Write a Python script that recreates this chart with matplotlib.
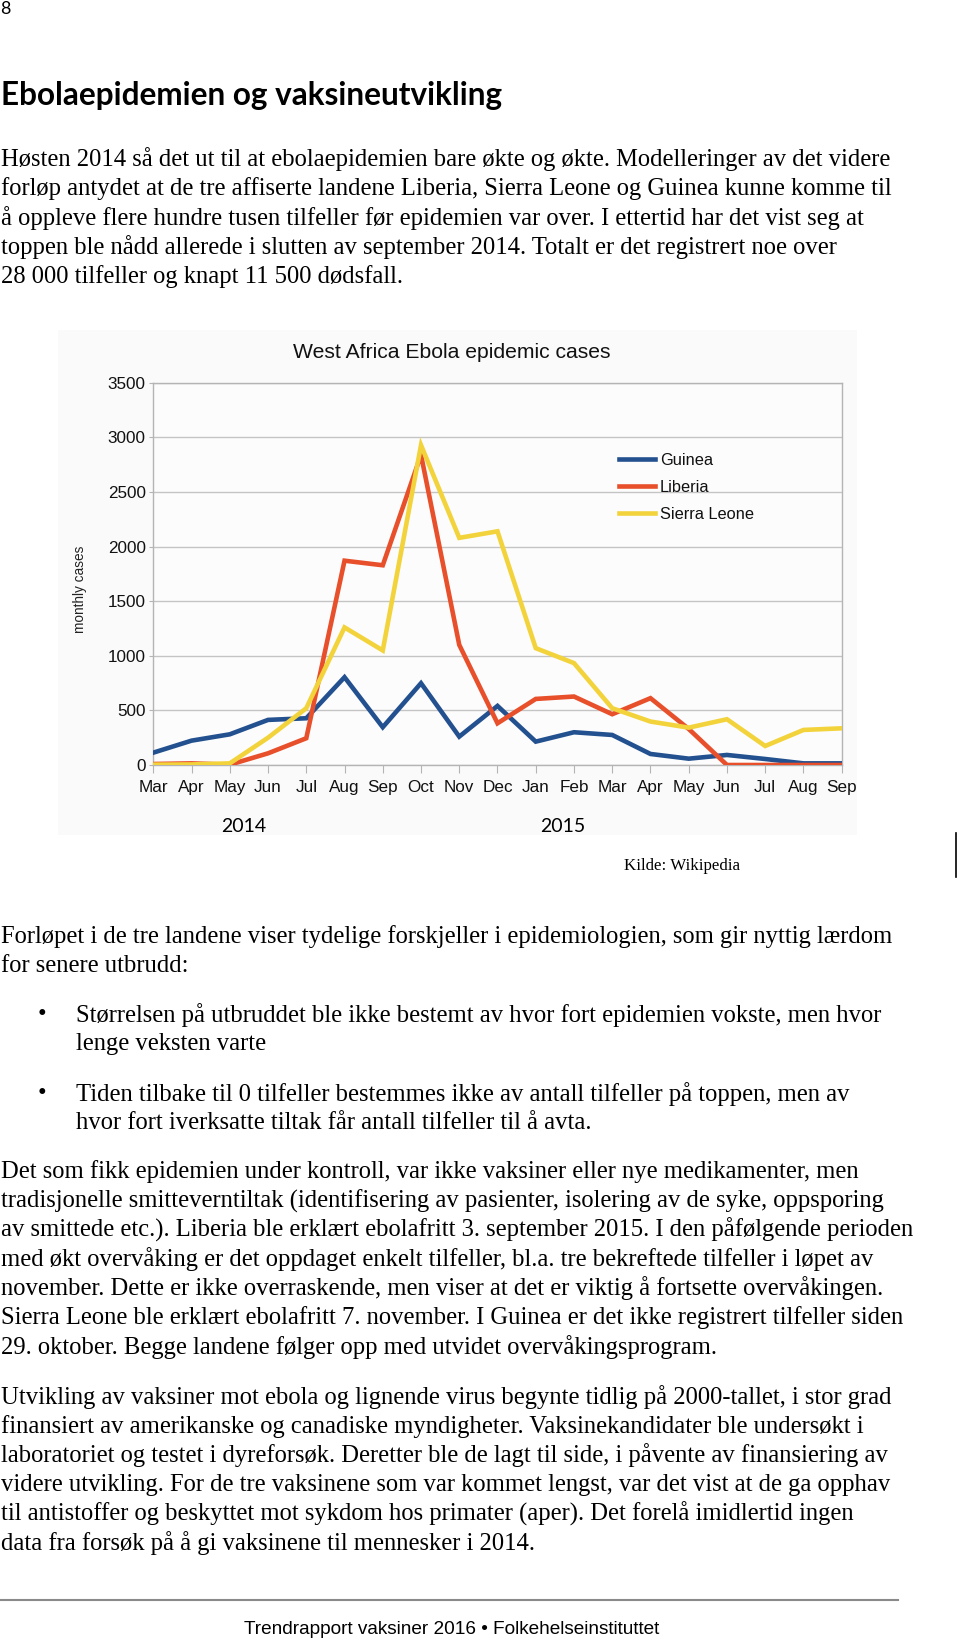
# Ebola page: monthly cases chart with surrounding report text

import matplotlib
matplotlib.use('Agg')
import matplotlib.pyplot as plt
from matplotlib.patches import Rectangle
from matplotlib.lines import Line2D

W, H = 960, 1641

#---- chart data

months = ['Mar', 'Apr', 'May', 'Jun', 'Jul', 'Aug', 'Sep', 'Oct', 'Nov', 'Dec',
          'Jan', 'Feb', 'Mar', 'Apr', 'May', 'Jun', 'Jul', 'Aug', 'Sep']
guinea = [113, 223, 281, 413, 428, 804, 346, 749, 260, 541,
          214, 300, 275, 101, 58, 92, 55, 15, 15]
liberia = [9, 15, 3, 107, 245, 1871, 1829, 2840, 1100, 382,
           605, 627, 465, 612, 330, 0, 0, 0, 0]
sierra_leone = [3, 5, 15, 250, 520, 1260, 1049, 2929, 2080, 2140,
                1070, 933, 520, 398, 342, 419, 174, 321, 336]
series_names = ['Guinea', 'Liberia', 'Sierra Leone']
series_colors = ['#23508f', '#e84f2b', '#f3d33c']
yticks = [0, 500, 1000, 1500, 2000, 2500, 3000, 3500]
years = ['2014', '2015']

#---- page text

page_no = '8'
heading = 'Ebolaepidemien og vaksineutvikling'
para1 = ['Høsten 2014 så det ut til at ebolaepidemien bare økte og økte. Modelleringer av det videre',
         'forløp antydet at de tre affiserte landene Liberia, Sierra Leone og Guinea kunne komme til',
         'å oppleve flere hundre tusen tilfeller før epidemien var over. I ettertid har det vist seg at',
         'toppen ble nådd allerede i slutten av september 2014. Totalt er det registrert noe over',
         '28 000 tilfeller og knapt 11 500 dødsfall.']
para2 = ['Forløpet i de tre landene viser tydelige forskjeller i epidemiologien, som gir nyttig lærdom',
         'for senere utbrudd:']
bullet1 = ['Størrelsen på utbruddet ble ikke bestemt av hvor fort epidemien vokste, men hvor',
           'lenge veksten varte']
bullet2 = ['Tiden tilbake til 0 tilfeller bestemmes ikke av antall tilfeller på toppen, men av',
           'hvor fort iverksatte tiltak får antall tilfeller til å avta.']
para3 = ['Det som fikk epidemien under kontroll, var ikke vaksiner eller nye medikamenter, men',
         'tradisjonelle smitteverntiltak (identifisering av pasienter, isolering av de syke, oppsporing',
         'av smittede etc.). Liberia ble erklært ebolafritt 3. september 2015. I den påfølgende perioden',
         'med økt overvåking er det oppdaget enkelt tilfeller, bl.a. tre bekreftede tilfeller i løpet av',
         'november. Dette er ikke overraskende, men viser at det er viktig å fortsette overvåkingen.',
         'Sierra Leone ble erklært ebolafritt 7. november. I Guinea er det ikke registrert tilfeller siden',
         '29. oktober. Begge landene følger opp med utvidet overvåkingsprogram.']
para4 = ['Utvikling av vaksiner mot ebola og lignende virus begynte tidlig på 2000-tallet, i stor grad',
         'finansiert av amerikanske og canadiske myndigheter. Vaksinekandidater ble undersøkt i',
         'laboratoriet og testet i dyreforsøk. Deretter ble de lagt til side, i påvente av finansiering av',
         'videre utvikling. For de tre vaksinene som var kommet lengst, var det vist at de ga opphav',
         'til antistoffer og beskyttet mot sykdom hos primater (aper). Det forelå imidlertid ingen',
         'data fra forsøk på å gi vaksinene til mennesker i 2014.']
source = 'Kilde: Wikipedia'
footer = 'Trendrapport vaksiner 2016 \u2022 Folkehelseinstituttet'

serif = ['Liberation Serif', 'DejaVu Serif']
sans = ['Liberation Sans', 'DejaVu Sans']
calibri = ['Lato', 'DejaVu Sans']


fig = plt.figure(figsize=(W / 100, H / 100), dpi=100)
fig.patch.set_facecolor('white')
renderer = fig.canvas.get_renderer()


def put(x, y, s, **kw):
    # x, y in page pixels, y measured from the top
    return fig.text(x / W, 1 - y / H, s, **kw)


def fit_size(s, family, width, weight='normal'):
    # font size that makes the string about `width` pixels wide
    t = fig.text(0, 0, s, fontsize=10, family=family, weight=weight)
    w = t.get_window_extent(renderer).width
    t.remove()
    return 10 * width / w


#---- page text

put(0, 9, page_no, fontsize=13, family=calibri, va='center')
put(1, 96, heading, fontsize=fit_size(heading, calibri, 503, 'bold'),
    family=calibri, weight='bold', va='center')

body = fit_size(para1[0], serif, 891)


def block(lines, x0, y0, step=29.3):
    for i, s in enumerate(lines):
        put(x0, y0 + i * step, s, fontsize=body, family=serif, va='center')


block(para1, 1, 159)
block(para2, 1, 937)
put(42, 1015, '\u2022', fontsize=body, family=serif, ha='center', va='center')
block(bullet1, 76, 1015)
put(42, 1094, '\u2022', fontsize=body, family=serif, ha='center', va='center')
block(bullet2, 76, 1094)
block(para3, 1, 1172, 29.1)
block(para4, 1, 1397, 29.2)

# footer rule and text
fig.add_artist(Line2D([0, 898 / W], [1 - 1600 / H, 1 - 1600 / H],
                      color='#8a8a8a', lw=1.5))
foot_fam = ['Liberation Sans Narrow', 'Liberation Sans']
put(452, 1629, footer, fontsize=fit_size(footer, foot_fam, 419),
    family=foot_fam, ha='center', va='center')

#---- chart

fig.add_artist(Rectangle((58 / W, 1 - 835 / H), 799 / W, 505 / H,
                         transform=fig.transFigure, facecolor='#fafafa',
                         edgecolor='none', zorder=0))

ax = fig.add_axes([153.3 / W, 1 - 765 / H, 688.4 / W, 382.2 / H])
ax.set_facecolor('#fcfcfc')

x = list(range(len(months)))
for vals, name, col in zip([guinea, liberia, sierra_leone], series_names, series_colors):
    ax.plot(x, vals, color=col, lw=3.3, label=name, solid_joinstyle='miter', zorder=3)

ax.set_xlim(0, len(months) - 1)
ax.set_ylim(0, 3500)
ax.set_yticks(yticks)
ax.set_yticklabels([str(v) for v in yticks], family=sans)
ax.set_xticks(x)
ax.set_xticklabels(months, family=sans)
ax.grid(axis='y', color='#c4c4c4', lw=1)
ax.set_axisbelow(True)
for sp in ax.spines.values():
    sp.set_color('#b4b4b4')
    sp.set_linewidth(1)
ax.tick_params(axis='x', length=6, color='#b4b4b4', pad=5, labelsize=12.3,
               labelcolor='#111111')
ax.tick_params(axis='y', length=3, color='#b4b4b4', pad=2.5, labelsize=12.3,
               labelcolor='#111111')

leg = ax.legend(loc='upper left', bbox_to_anchor=(0.676, 0.816), frameon=False,
                borderpad=0, borderaxespad=0, handlelength=2.2, handletextpad=0.3,
                labelspacing=0.72, prop={'family': sans, 'size': 11.8})
for t in leg.get_texts():
    t.set_color('#111111')

put(452, 353, 'West Africa Ebola epidemic cases', fontsize=15.2, family=sans,
    ha='center', va='center', color='#111111')
put(80, 589, 'monthly cases', fontsize=9.8, family=sans, rotation=90,
    ha='center', va='center', color='#222222')
put(244, 827, years[0], fontsize=14, family=calibri, ha='center', va='center')
put(563, 827, years[1], fontsize=14, family=calibri, ha='center', va='center')
put(682, 866, source, fontsize=12.2, family=serif, ha='center', va='center')
fig.add_artist(Line2D([956 / W, 956 / W], [1 - 833 / H, 1 - 877 / H],
                      color='black', lw=1.2))

plt.savefig('out.png', dpi=100)
